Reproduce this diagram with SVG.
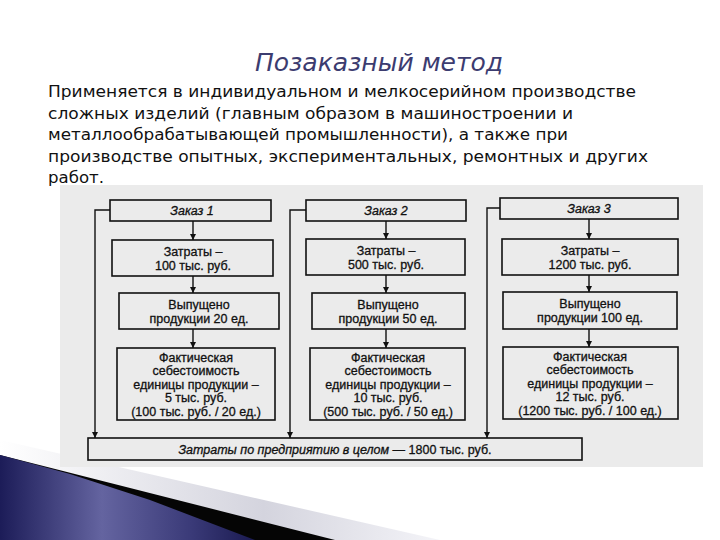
<svg xmlns="http://www.w3.org/2000/svg" width="720" height="540" viewBox="0 0 720 540">
<defs>
<style>
.box{fill:none;stroke:#111;stroke-width:1.6}
.ln{fill:none;stroke:#111;stroke-width:1.4}
.t{font-family:"Liberation Sans",Arial,sans-serif;font-size:12.5px;fill:#111;stroke:#111;stroke-width:0.3;text-anchor:middle}
.ti{font-style:italic}
.body{font-family:"DejaVu Sans","Noto Sans",sans-serif;font-size:16.5px;fill:#111}
</style>
<marker id="ah" viewBox="0 0 10 10" refX="10" refY="5" markerWidth="6" markerHeight="7" markerUnits="userSpaceOnUse" orient="auto">
<path d="M0,0 L10,5 L0,10 Z" fill="#111"/>
</marker>
<linearGradient id="blue" x1="0" y1="0" x2="1" y2="0">
<stop offset="0" stop-color="#1c1c58"/>
<stop offset="0.4" stop-color="#6464a0"/>
<stop offset="0.75" stop-color="#3a3a78"/>
<stop offset="1" stop-color="#1a1a50"/>
</linearGradient>
<linearGradient id="gray" x1="0" y1="0" x2="1" y2="0">
<stop offset="0" stop-color="#ffffff"/>
<stop offset="0.6" stop-color="#d4d4de"/>
<stop offset="1" stop-color="#f4f4f8"/>
</linearGradient>
</defs>
<rect width="720" height="540" fill="#ffffff"/>

<g id="decor">
<polygon points="0,440 440,540 0,540" fill="url(#gray)"/>
<polygon points="0,455 335,540 0,540" fill="#050505"/>
<polygon points="0,455 70,474 150,500 255,540 0,540" fill="url(#blue)"/>
</g>

<g id="title">
<text x="379" y="71" text-anchor="middle" font-family="DejaVu Sans,'Noto Sans',sans-serif" font-style="italic" font-size="25" fill="#3c3c70">Позаказный метод</text>
</g>

<g id="description">
<text class="body" x="48" y="97" textLength="588" lengthAdjust="spacingAndGlyphs">Применяется в индивидуальном и мелкосерийном производстве</text>
<text class="body" x="48" y="118.5" textLength="525" lengthAdjust="spacingAndGlyphs">сложных изделий (главным образом в машиностроении и</text>
<text class="body" x="48" y="140" textLength="520" lengthAdjust="spacingAndGlyphs">металлообрабатывающей промышленности), а также при</text>
<text class="body" x="48" y="161.5" textLength="600" lengthAdjust="spacingAndGlyphs">производстве опытных, экспериментальных, ремонтных и других</text>
<text class="body" x="48" y="183" textLength="56" lengthAdjust="spacingAndGlyphs">работ.</text>
</g>

<rect id="panel" x="60" y="185" width="643" height="282" fill="#ebebeb"/>

<g id="connectors">
<line class="ln" x1="193" y1="221" x2="193" y2="240" marker-end="url(#ah)"/>
<line class="ln" x1="193" y1="276" x2="193" y2="293" marker-end="url(#ah)"/>
<line class="ln" x1="193" y1="329" x2="193" y2="348" marker-end="url(#ah)"/>
<line class="ln" x1="386" y1="221" x2="386" y2="239" marker-end="url(#ah)"/>
<line class="ln" x1="386" y1="275" x2="386" y2="293" marker-end="url(#ah)"/>
<line class="ln" x1="386" y1="329" x2="386" y2="348" marker-end="url(#ah)"/>
<line class="ln" x1="589" y1="219" x2="589" y2="239" marker-end="url(#ah)"/>
<line class="ln" x1="589" y1="275" x2="589" y2="292" marker-end="url(#ah)"/>
<line class="ln" x1="589" y1="329" x2="589" y2="347" marker-end="url(#ah)"/>
<polyline class="ln" points="110,210 95,210 95,438" marker-end="url(#ah)"/>
<polyline class="ln" points="306,210 290,210 290,438" marker-end="url(#ah)"/>
<polyline class="ln" points="500,208 487,208 487,438" marker-end="url(#ah)"/>
</g>

<g id="order1">
<rect class="box" x="110" y="200" width="161" height="21"/>
<text class="t ti" x="192" y="215">Заказ 1</text>
</g>
<g id="cost1">
<rect class="box" x="112" y="240" width="161" height="36"/>
<text class="t" x="193" y="255.5">Затраты –</text>
<text class="t" x="193" y="270">100 тыс. руб.</text>
</g>
<g id="output1">
<rect class="box" x="119" y="293" width="160" height="36"/>
<text class="t" x="199" y="308.5">Выпущено</text>
<text class="t" x="199" y="323">продукции 20 ед.</text>
</g>
<g id="unitcost1">
<rect class="box" x="117" y="348" width="158" height="72"/>
<text class="t" x="196" y="361.5">Фактическая</text>
<text class="t" x="196" y="375">себестоимость</text>
<text class="t" x="196" y="388.5">единицы продукции –</text>
<text class="t" x="196" y="402">5 тыс. руб.</text>
<text class="t" x="196" y="415.5">(100 тыс. руб. / 20 ед.)</text>
</g>

<g id="order2">
<rect class="box" x="306" y="200" width="160" height="21"/>
<text class="t ti" x="386" y="215">Заказ 2</text>
</g>
<g id="cost2">
<rect class="box" x="306" y="239" width="159" height="36"/>
<text class="t" x="386" y="254.5">Затраты –</text>
<text class="t" x="386" y="269">500 тыс. руб.</text>
</g>
<g id="output2">
<rect class="box" x="312" y="293" width="153" height="36"/>
<text class="t" x="388" y="308.5">Выпущено</text>
<text class="t" x="388" y="323">продукции 50 ед.</text>
</g>
<g id="unitcost2">
<rect class="box" x="310" y="348" width="155" height="72"/>
<text class="t" x="388" y="361.5">Фактическая</text>
<text class="t" x="388" y="375">себестоимость</text>
<text class="t" x="388" y="388.5">единицы продукции –</text>
<text class="t" x="388" y="402">10 тыс. руб.</text>
<text class="t" x="388" y="415.5">(500 тыс. руб. / 50 ед.)</text>
</g>

<g id="order3">
<rect class="box" x="500" y="198" width="178" height="21"/>
<text class="t ti" x="589" y="213">Заказ 3</text>
</g>
<g id="cost3">
<rect class="box" x="502" y="239" width="176" height="36"/>
<text class="t" x="590" y="254.5">Затраты –</text>
<text class="t" x="590" y="269">1200 тыс. руб.</text>
</g>
<g id="output3">
<rect class="box" x="503" y="292" width="174" height="37"/>
<text class="t" x="590" y="307.5">Выпущено</text>
<text class="t" x="590" y="322">продукции 100 ед.</text>
</g>
<g id="unitcost3">
<rect class="box" x="503" y="347" width="175" height="72"/>
<text class="t" x="590" y="360.5">Фактическая</text>
<text class="t" x="590" y="374">себестоимость</text>
<text class="t" x="590" y="387.5">единицы продукции –</text>
<text class="t" x="590" y="401">12 тыс. руб.</text>
<text class="t" x="590" y="414.5">(1200 тыс. руб. / 100 ед.)</text>
</g>

<g id="total">
<rect class="box" x="88" y="438" width="494" height="22"/>
<text class="t" x="335" y="453.5"><tspan font-style="italic">Затраты по предприятию в целом — </tspan>1800 тыс. руб.</text>
</g>
</svg>
